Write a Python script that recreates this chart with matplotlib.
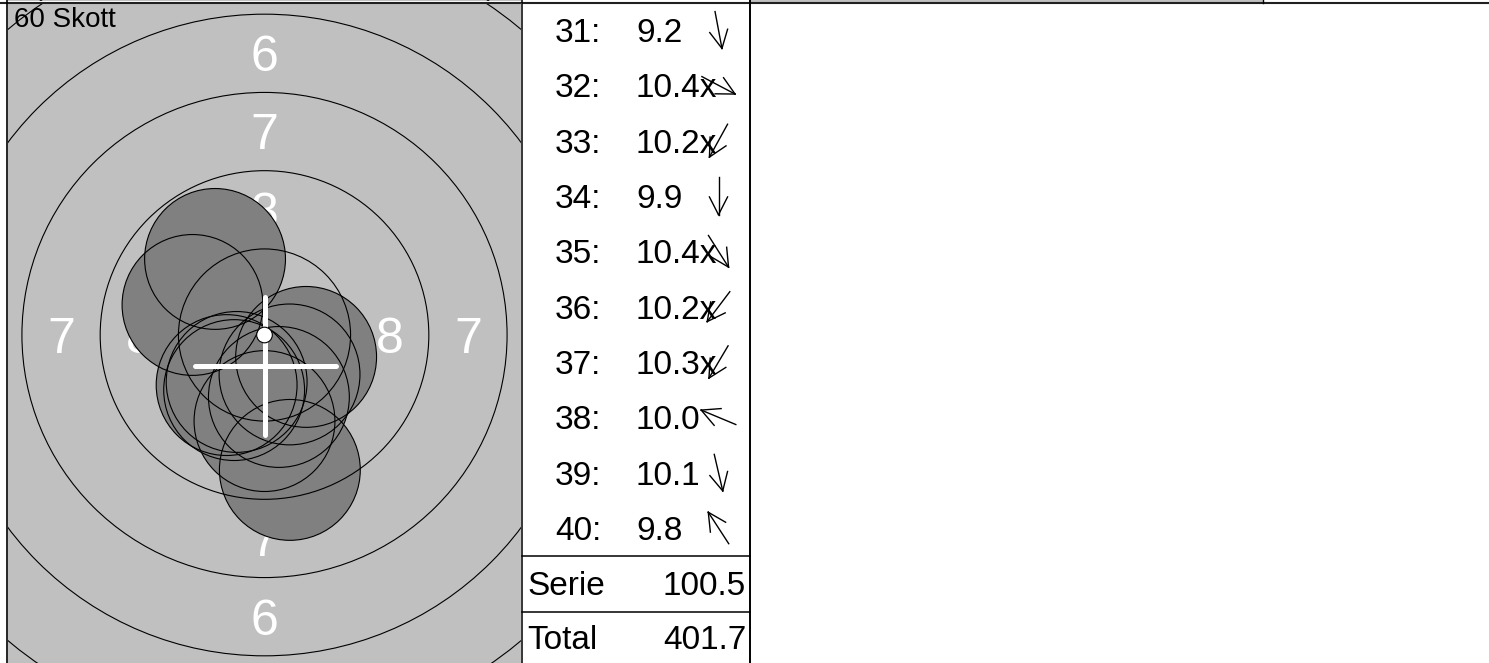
import numpy as np
import matplotlib.pyplot as plt
from matplotlib.patches import Circle, Rectangle

plt.rcParams['font.family'] = ['Liberation Sans', 'DejaVu Sans']

# shots 31-40 (series 4 of the 60 shot match)
shot_no = [31, 32, 33, 34, 35, 36, 37, 38, 39, 40]
shot_score = ['9.2', '10.4x', '10.2x', '9.9', '10.4x', '10.2x', '10.3x', '10.0', '10.1', '9.8']
# hit position relative to target centre, mm (y up)
shot_x = [0.81, 1.33, -0.97, 0.00, 0.80, -1.21, -0.89, -2.30, 0.46, -1.58]
shot_y = [-4.31, -0.70, -1.76, -2.75, -1.26, -1.60, -1.50, 0.96, -1.98, 2.43]
serie_sum = '100.5'
total_sum = '401.7'
title = '60 Skott'

# mean point of impact + spread, drawn as the white cross (mm)
mpi_x, mpi_y = 0.02, -0.99
spread_x, spread_y = 2.25, 2.19

# 10m air rifle target, ring radius in mm for ring 10 .. 1
ring_value = [10, 9, 8, 7, 6, 5, 4, 3, 2, 1]
ring_radius = [0.25, 2.75, 5.25, 7.75, 10.25, 12.75, 15.25, 17.75, 20.25, 22.75]
pellet_r = 2.25

W, H = 1489, 663
PX = 31.3           # pixels per mm
fig = plt.figure(figsize=(W / 100, H / 100), dpi=100)


def add_target(top):
    # one target panel, 8..521 px wide, 662 px high
    left, right, height = 8, 521, 662
    ax = fig.add_axes([left / W, 1 - (top + height) / H, (right - left) / W, height / H])
    cx = 264.5 - left
    ax.set_xlim(-cx / PX, (right - left - cx) / PX)
    ax.set_ylim(-height / 2 / PX, height / 2 / PX)
    ax.set_facecolor('#c0c0c0')
    ax.set_xticks([])
    ax.set_yticks([])
    for s in ax.spines.values():
        s.set_visible(False)
    for r in ring_radius[1:]:
        ax.add_patch(Circle((0, 0), r, fill=False, lw=0.8, ec='black', zorder=4))
    return ax


# bottom edge of the previous row
add_target(4 - 665)

ax = add_target(4)

# ring numbers
lab_size = 36
off = 0.716 * lab_size * (100 / 72) / PX / 2
for v in range(1, 9):
    i = ring_value.index(v)
    rm = (ring_radius[i] + ring_radius[i - 1]) / 2
    for ux, uy in [(0, 1), (0, -1), (1, 0), (-1, 0)]:
        ax.text(ux * rm, uy * rm - off, str(v), color='white', fontsize=lab_size,
                ha='center', va='baseline', zorder=1, clip_path=ax.patch)

# shots: fills first, outlines after
for x, y in zip(shot_x, shot_y):
    ax.add_patch(Circle((x, y), pellet_r, fc='#808080', ec='none', zorder=2))
for x, y in zip(shot_x, shot_y):
    ax.add_patch(Circle((x, y), pellet_r, fill=False, ec='black', lw=0.8, zorder=3))

# cross for mean point of impact
ax.plot([mpi_x - spread_x, mpi_x + spread_x], [mpi_y, mpi_y], color='white', lw=3.6,
        solid_capstyle='round', zorder=5)
ax.plot([mpi_x, mpi_x], [mpi_y - spread_y, mpi_y + spread_y], color='white', lw=3.6,
        solid_capstyle='round', zorder=5)
# 10 ring dot
ax.add_patch(Circle((0, 0), ring_radius[0], fc='white', ec='black', lw=0.8, zorder=6))

# overlay in pixel coordinates for the table and borders
ov = fig.add_axes([0, 0, 1, 1], zorder=10)
ov.set_xlim(0, W)
ov.set_ylim(H, 0)
ov.axis('off')

ov.add_patch(Rectangle((750, 0), 513, 2.5, fc='#c0c0c0', ec='none'))
ov.plot([0, W], [3, 3], color='#202020', lw=1.5)
ov.plot([7, 7], [0, H], color='black', lw=1.2)
ov.plot([520.5, 520.5], [3, H], color='white', lw=0.8)
ov.plot([522, 522], [0, H], color='black', lw=1.1)
ov.plot([749.5, 749.5], [0, H], color='black', lw=1.4)
ov.plot([1263, 1263], [0, 3], color='black', lw=1.0)
ov.plot([522, 750], [556, 556], color='black', lw=1.1)
ov.plot([522, 750], [612, 612], color='black', lw=1.1)

ov.text(14, 27, title, fontsize=20, ha='left', va='baseline')

# shot list with direction arrows (open head drawn as two strokes)
row0, row_step = 30, 55.33
fs = 24
arrow_len, barb_len, barb_ang = 37.5, 20, np.radians(27)
for k, (n, s, x, y) in enumerate(zip(shot_no, shot_score, shot_x, shot_y)):
    cy = row0 + row_step * k
    base = cy + 12
    ov.text(601, base, f'{n}:', fontsize=fs, ha='right', va='baseline')
    ov.text(636, base, s, fontsize=fs, ha='left', va='baseline')
    a = np.arctan2(-y, x)          # screen y points down
    ux, uy = np.cos(a), np.sin(a)
    tip = (718.5 + ux * arrow_len / 2, cy + uy * arrow_len / 2)
    tail = (718.5 - ux * arrow_len / 2, cy - uy * arrow_len / 2)
    ov.plot([tail[0], tip[0]], [tail[1], tip[1]], color='black', lw=1.0)
    for sgn in (1, -1):
        b = a + np.pi + sgn * barb_ang
        ov.plot([tip[0], tip[0] + barb_len * np.cos(b)], [tip[1], tip[1] + barb_len * np.sin(b)],
                color='black', lw=1.0)

ov.text(527, 595, 'Serie', fontsize=fs, ha='left', va='baseline')
ov.text(746, 595, serie_sum, fontsize=fs, ha='right', va='baseline')
ov.text(527, 649, 'Total', fontsize=fs, ha='left', va='baseline')
ov.text(746, 649, total_sum, fontsize=fs, ha='right', va='baseline')

fig.savefig('out.png', dpi=100)
